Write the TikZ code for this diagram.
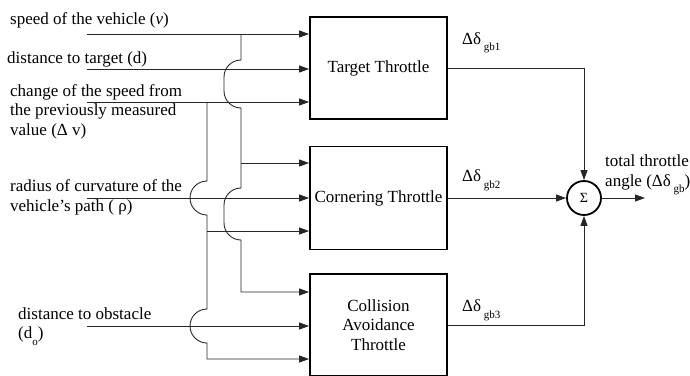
\documentclass[tikz,border=0pt]{standalone}
\usepackage{fontspec}
\setmainfont{Liberation Serif}
\usetikzlibrary{arrows.meta}
\newcommand\mlines[1]{\begin{tabular}[t]{@{}l@{}}#1\end{tabular}}
\newcommand\subs[1]{\raisebox{-6.5pt}{\fontsize{11}{12}\selectfont #1}}
\tikzset{
  blk/.style={draw, line width=1.8pt, minimum width=137pt, inner sep=0pt, align=center},
  wire/.style={line width=0.9pt, draw=black!85},
  arr/.style={wire, -{Triangle[length=10pt,width=7pt]}},
  lbl/.style={anchor=base west, inner sep=0pt},
}
\begin{document}
\begin{tikzpicture}[x=1pt,y=-1pt,font=\fontsize{17}{19.5}\selectfont]
\clip (0,0) rectangle (690,375);
% blocks
\node[blk, minimum height=102pt] (tgt) at (378.5,68) {Target Throttle};
\node[blk, minimum height=103pt] (corn) at (378.5,198) {Cornering Throttle};
\node[blk, minimum height=102pt] (coll) at (378.5,325) {Collision\\Avoidance\\Throttle};
\node[draw, circle, line width=1.8pt, minimum size=34pt, inner sep=0pt, font=\fontsize{14}{14}\selectfont] (sum) at (584,198) {Σ};
% input labels
\node[lbl] (t1) at (10,24) {speed of the vehicle (\textit{v})};
\node[lbl] (t2) at (7,63.5) {distance to target (d)};
\node[lbl] (t3) at (10,96) {\mlines{change of the speed from\\the previously measured\\value (Δ v)}};
\node[lbl] (t4) at (10,191.5) {\mlines{radius of curvature of the\\vehicle's path ( ρ)}};
\node[lbl] (t5) at (18,319) {\mlines{distance to obstacle\\(d\subs{o})}};
% output labels
\node[lbl] (o1) at (462,44) {Δδ\,\subs{gb1}};
\node[lbl] (o2) at (462,181.5) {Δδ\,\subs{gb2}};
\node[lbl] (o3) at (462,311.5) {Δδ\,\subs{gb3}};
\node[lbl] (o4) at (605,166.5) {\mlines{total throttle\\angle (Δδ\,\subs{gb})}};
% free ends and junctions
\coordinate (i1) at (87,34);
\coordinate (i2) at (87,69);
\coordinate (i3) at (87,102);
\coordinate (i4) at (87,198);
\coordinate (i5) at (87,326);
\coordinate (jA) at (241,34);
\coordinate (jB) at (241,163);
\coordinate (jC) at (241,292);
\coordinate (kA) at (207,102);
\coordinate (kB) at (207,231);
\coordinate (kC) at (207,359);
\coordinate (out) at (645,198);
% main inputs
\draw[arr] (i1) -- (i1 -| tgt.west);
\draw[arr] (i2) -- (i2 -| tgt.west);
\draw[arr] (i3) -- (i3 -| tgt.west);
\draw[arr] (i4) -- (i4 -| corn.west);
\draw[arr] (i5) -- (i5 -| coll.west);
% branch from speed line
\draw[arr] (jA) -- (241,60) arc[start angle=270,end angle=180,radius=17] -- (224,91)
  arc[start angle=180,end angle=90,radius=17] -- (jB) -- (241,188)
  arc[start angle=270,end angle=180,radius=17] -- (224,223)
  arc[start angle=180,end angle=90,radius=17] -- (jC) -- (jC -| coll.west);
\draw[arr] (jB) -- (jB -| corn.west);
% branch from change-of-speed line
\draw[arr] (kA) -- (207,181) arc[start angle=270,end angle=90,radius=17] -- (kB) -- (207,309)
  arc[start angle=270,end angle=90,radius=17] -- (kC) -- (kC -| coll.west);
\draw[arr] (kB) -- (kB -| corn.west);
% outputs
\draw[arr] (tgt.east) -| (sum.north);
\draw[arr] (corn.east) -- (sum.west);
\draw[arr] (coll.east) -| (sum.south);
\draw[arr] (sum.east) -- (out);
\end{tikzpicture}
\end{document}
